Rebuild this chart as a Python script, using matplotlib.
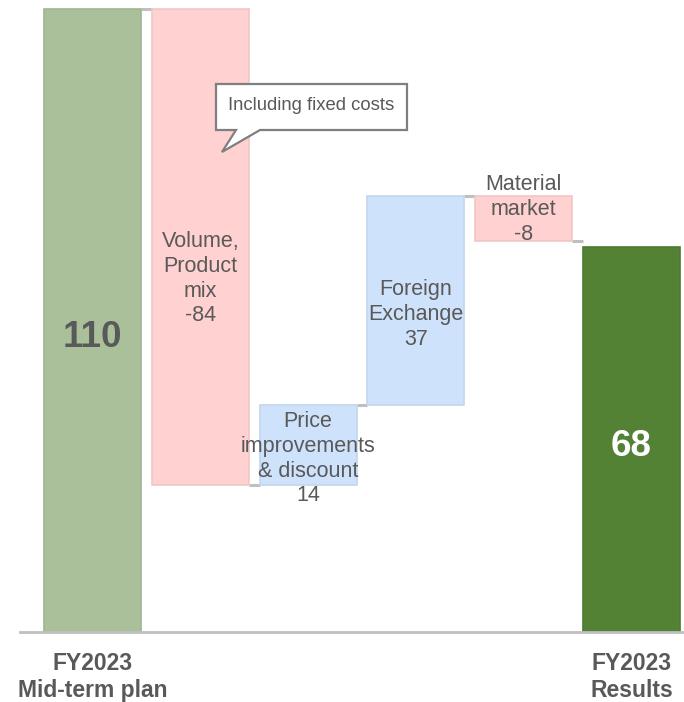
import matplotlib
matplotlib.use("Agg")
import matplotlib.pyplot as plt
from matplotlib.patches import Polygon

plt.rcParams['font.family'] = ['Liberation Sans', 'DejaVu Sans']

# data
steps = ["FY2023\nMid-term plan", "Volume,\nProduct\nmix", "Price\nimprovements\n& discount",
         "Foreign\nExchange", "Material\nmarket", "FY2023\nResults"]
values = [110, -84, 14, 37, -8, 68]
kinds = ["total", "delta", "delta", "delta", "delta", "total"]
# where to put the label centre (data units)
label_y = [52, 62.4, 30.6, 56.0, 74.6, 32.8]

fill = {"start": "#a9c09a", "neg": "#ffd1d1", "pos": "#cfe2fb", "end": "#548235"}
edge = {"start": "#a0b592", "neg": "#f2c6c6", "pos": "#c2d6ee", "end": "#4e7a31"}
txt = "#595959"

fig = plt.figure(figsize=(6.84, 7.02), dpi=100)
ax = fig.add_axes([20 / 684, 70 / 702, 664 / 684, 623 / 702])
ax.set_xlim(-0.672, 5.487)
ax.set_ylim(0, 110)
ax.axis("off")

w = 0.9
running = 0
levels = []
for i, (v, k) in enumerate(zip(values, kinds)):
    if k == "total":
        bottom, height = 0, v
        key = "start" if i == 0 else "end"
        running = v
    else:
        key = "pos" if v > 0 else "neg"
        bottom = running if v > 0 else running + v
        height = abs(v)
        running += v
    levels.append(running)
    ax.bar(i, height, bottom=bottom, width=w, color=fill[key], edgecolor=edge[key],
           linewidth=1.2, clip_on=False, zorder=2)

    if k == "total":
        col = txt if i == 0 else "white"
        ax.text(i, label_y[i], str(v), ha="center", va="center", fontsize=26.5,
                fontweight="bold", color=col, zorder=3)
    else:
        ax.text(i, label_y[i], steps[i] + "\n" + str(v), ha="center", va="center",
                fontsize=15.5, color=txt, linespacing=1.24, zorder=3)

# connectors between bars
for i in range(len(values) - 1):
    ax.plot([i + w / 2, i + 1 - w / 2], [levels[i], levels[i]], color="#bfbfbf",
            lw=2.2, solid_capstyle="butt", clip_on=False, zorder=1)

# baseline
ax.axhline(0, color="#bfbfbf", lw=2, zorder=4, clip_on=False)

# category labels under the totals
for i in (0, len(values) - 1):
    ax.text(i, -8.0, steps[i], ha="center", va="center", fontsize=16.5,
            fontweight="bold", color=txt, linespacing=1.24)

# callout
def fpt(x, y):
    return (x / 684, 1 - y / 702)

pts = [fpt(216, 84), fpt(407, 84), fpt(407, 130), fpt(260, 130), fpt(222, 152),
       fpt(236, 130), fpt(216, 130)]
fig.patches.append(Polygon(pts, closed=True, facecolor="white", edgecolor="#7f7f7f",
                           lw=1.6, transform=fig.transFigure, zorder=5))
fig.text(311 / 684, 1 - 105 / 702, "Including fixed costs", ha="center", va="center",
         fontsize=13.3, color=txt, zorder=6)

fig.savefig("out.png", dpi=100)
